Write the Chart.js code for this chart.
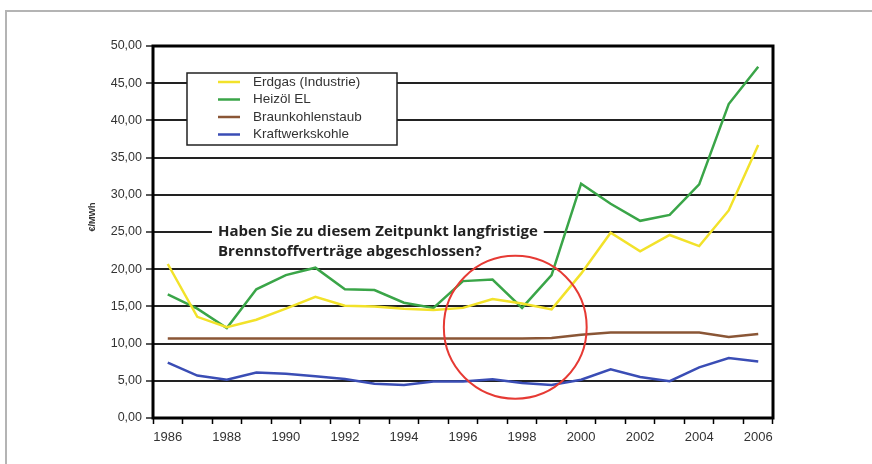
<!DOCTYPE html>
<html>
<head>
<meta charset="utf-8">
<script src="https://cdn.jsdelivr.net/npm/chart.js@4"></script>
<style>
  html, body { margin: 0; padding: 0; background: #fff; overflow: hidden; }
  #frame { position: absolute; left: 5px; top: 10px; width: 1000px; height: 600px; border: 2px solid #b4b4b4; }
  #resultChart { position: absolute; left: 0; top: 0; }
</style>
</head>
<body>
<div id="frame"></div>
<canvas id="resultChart" width="872" height="464"></canvas>
<script>
// Energy prices 1986-2006 in EUR/MWh

const years = ["1986", "1987", "1988", "1989", "1990", "1991", "1992", "1993", "1994", "1995", "1996",
  "1997", "1998", "1999", "2000", "2001", "2002", "2003", "2004", "2005", "2006"];
const tickYears = ["1986", "1988", "1990", "1992", "1994", "1996", "1998", "2000", "2002", "2004", "2006"];

const erdgas = [20.7, 13.6, 12.2, 13.2, 14.7, 16.3, 15.1, 15.0, 14.7, 14.5, 14.8,
  16.0, 15.4, 14.6, 19.4, 24.9, 22.4, 24.6, 23.1, 27.9, 36.7];
const heizoel = [16.6, 14.7, 12.1, 17.3, 19.2, 20.2, 17.3, 17.2, 15.5, 14.8, 18.4,
  18.6, 14.8, 19.2, 31.5, 28.8, 26.5, 27.3, 31.4, 42.2, 47.2];
const braunkohle = [10.7, 10.7, 10.7, 10.7, 10.7, 10.7, 10.7, 10.7, 10.7, 10.7, 10.7,
  10.7, 10.7, 10.75, 11.2, 11.5, 11.5, 11.5, 11.5, 10.9, 11.3];
const kraftwerkskohle = [7.45, 5.7, 5.15, 6.1, 5.95, 5.6, 5.25, 4.6, 4.45, 4.9, 4.9,
  5.2, 4.7, 4.45, 5.15, 6.55, 5.5, 4.95, 6.8, 8.05, 7.6];

const seriesNames = ["Erdgas (Industrie)", "Heizöl EL", "Braunkohlenstaub", "Kraftwerkskohle"];
const seriesColors = ["#f2e22a", "#3aa548", "#8a5636", "#3a4db5"];

const question = ["Haben Sie zu diesem Zeitpunkt langfristige", "Brennstoffverträge abgeschlossen?"];

const FONT = "'Liberation Sans', Arial, sans-serif";

function makeSet(i, values) {
  return {
    label: seriesNames[i],
    data: values,
    borderColor: seriesColors[i],
    backgroundColor: seriesColors[i],
    borderWidth: 2.5,
    pointRadius: 0,
    tension: 0,
    fill: false,
  };
}

// legend box, question text, red circle, plot frame
const extras = {
  id: "extras",
  afterDatasetsDraw(chart) {
    const ctx = chart.ctx;
    const area = chart.chartArea;
    const x = chart.scales.x;
    const y = chart.scales.y;
    ctx.save();

    // plot frame
    ctx.strokeStyle = "#000";
    ctx.lineWidth = 3;
    ctx.strokeRect(area.left, area.top, area.right - area.left, area.bottom - area.top);

    // legend
    const lx = area.left + 34, ly = area.top + 27, lw = 210, lh = 72;
    ctx.fillStyle = "#fff";
    ctx.fillRect(lx, ly, lw, lh);
    ctx.lineWidth = 1.5;
    ctx.strokeStyle = "#222";
    ctx.strokeRect(lx, ly, lw, lh);
    ctx.font = "13.5px " + FONT;
    ctx.textBaseline = "middle";
    chart.data.datasets.forEach((ds, i) => {
      const ry = ly + 9 + i * 17.5;
      ctx.strokeStyle = ds.borderColor;
      ctx.lineWidth = 2.5;
      ctx.beginPath();
      ctx.moveTo(lx + 31, ry);
      ctx.lineTo(lx + 53, ry);
      ctx.stroke();
      ctx.fillStyle = "#333";
      ctx.fillText(ds.label, lx + 66, ry);
    });

    // question text sitting on the 25,00 grid line
    ctx.font = "bold 15px 'Open Sans', sans-serif";
    const qx = area.left + 65;
    const qy = y.getPixelForValue(25);
    const w1 = ctx.measureText(question[0]).width;
    ctx.fillStyle = "#fff";
    ctx.fillRect(qx - 6, qy - 8, w1 + 12, 16);
    ctx.fillStyle = "#222";
    ctx.fillText(question[0], qx, qy);
    ctx.fillText(question[1], qx, qy + 19.5);

    // red circle around 1996-1999
    const cx = x.getPixelForValue(11.77);
    const cy = y.getPixelForValue(12.2);
    const r = y.getPixelForValue(0) - y.getPixelForValue(9.6);
    ctx.strokeStyle = "#e63a34";
    ctx.lineWidth = 2;
    ctx.beginPath();
    ctx.arc(cx, cy, r, 0, Math.PI * 2);
    ctx.stroke();

    // y axis title
    ctx.translate(area.left - 60, area.top + 171);
    ctx.rotate(-Math.PI / 2);
    ctx.textAlign = "center";
    ctx.fillStyle = "#333";
    ctx.font = "bold 9px " + FONT;
    ctx.fillText("€/MWh", 0, 0);
    ctx.restore();
  },
};

const data = {
  labels: years,
  datasets: [
    makeSet(0, erdgas),
    makeSet(1, heizoel),
    makeSet(2, braunkohle),
    makeSet(3, kraftwerkskohle),
  ],
};

const config = {
  type: "line",
  data: data,
  options: {
    responsive: false,
    animation: false,
    devicePixelRatio: 1,
    layout: { padding: { left: 0, top: 46, right: 99, bottom: 0 } },
    plugins: {
      legend: { display: false },
      tooltip: { enabled: false },
    },
    scales: {
      x: {
        offset: true,
        afterFit(scale) { scale.height = 46; },
        grid: {
          offset: true,
          drawOnChartArea: false,
          drawTicks: true,
          tickLength: 6,
          tickColor: "#000",
          tickWidth: 1.5,
        },
        border: { display: false },
        ticks: {
          autoSkip: false,
          maxRotation: 0,
          padding: 6,
          color: "#333",
          font: { family: FONT, size: 13 },
          callback: function (value) {
            const lab = this.getLabelForValue(value);
            return tickYears.includes(lab) ? lab : "";
          },
        },
      },
      y: {
        min: 0,
        max: 50,
        afterFit(scale) { scale.width = 153; },
        grid: {
          color: "#222",
          lineWidth: 2,
          tickLength: 7,
          tickColor: "#222",
          tickWidth: 1.5,
        },
        border: { display: false },
        ticks: {
          stepSize: 5,
          padding: 4,
          color: "#333",
          font: { family: FONT, size: 12.5 },
          callback: (v) => v.toFixed(2).replace(".", ","),
        },
      },
    },
  },
  plugins: [extras],
};

const ctx = document.getElementById("resultChart").getContext("2d");
const resultChart = new Chart(ctx, config);
</script>
</body>
</html>
